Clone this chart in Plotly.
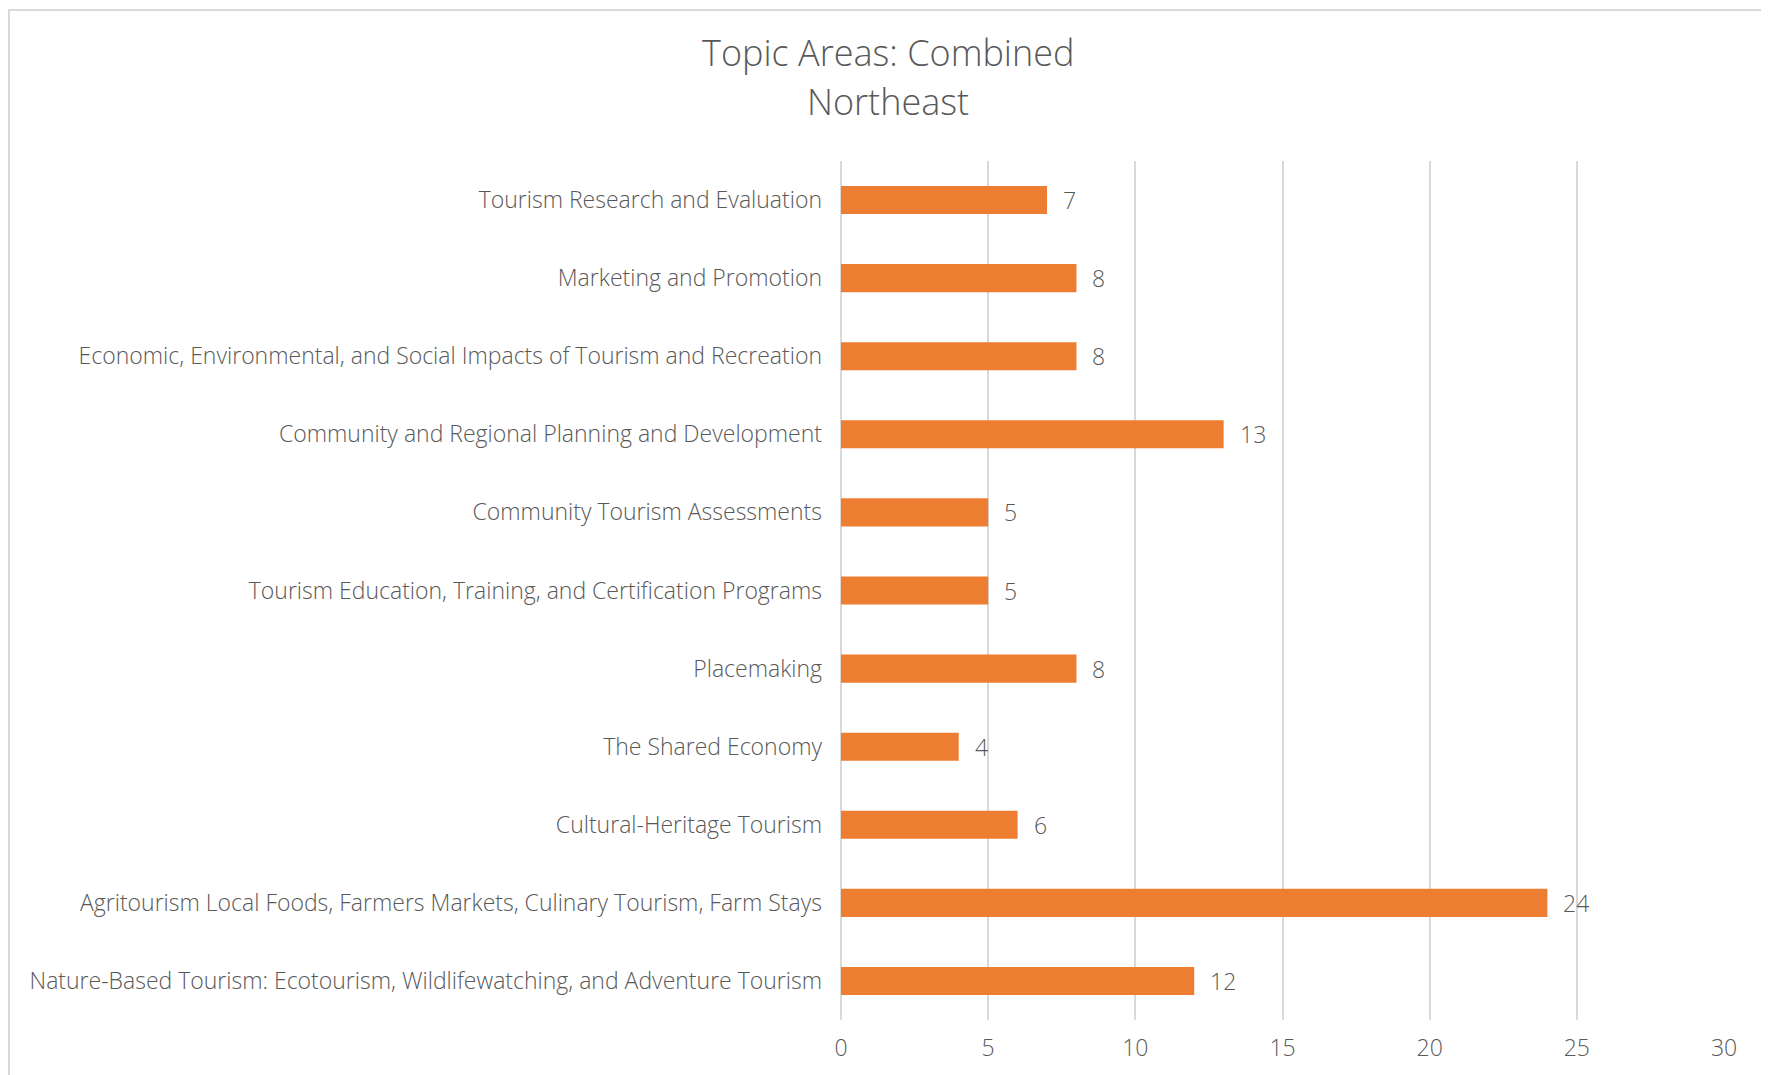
import plotly.graph_objects as go

categories = [
    "Tourism Research and Evaluation",
    "Marketing and Promotion",
    "Economic, Environmental, and Social Impacts of Tourism and Recreation",
    "Community and Regional Planning and Development",
    "Community Tourism Assessments",
    "Tourism Education, Training, and Certification Programs",
    "Placemaking",
    "The Shared Economy",
    "Cultural-Heritage Tourism",
    "Agritourism Local Foods, Farmers Markets, Culinary Tourism, Farm Stays",
    "Nature-Based Tourism: Ecotourism, Wildlifewatching, and Adventure Tourism",
]
values = [7, 8, 8, 13, 5, 5, 8, 4, 6, 24, 12]
x_ticks = [0, 5, 10, 15, 20, 25, 30]
title_lines = ["Topic Areas: Combined", "Northeast"]

TEXT = "#595959"
FONT = "Open Sans"

# figure geometry (page has an 8px body margin)
W, H = 1761, 1067
L, R, T, B = 833, 45, 153, 49
PW, PH = W - L - R, H - T - B

fig = go.Figure(go.Bar(
    x=values, y=categories, orientation="h",
    marker=dict(color="#ED7D31", line=dict(width=0)),
    width=0.36,
))

annotations = [
    dict(x=v, y=c, xref="x", yref="y", text=str(v), showarrow=False,
         xanchor="left", xshift=14, font=dict(family=FONT, size=23, color=TEXT, weight=300))
    for c, v in zip(categories, values)
]
for i, (line, ypx) in enumerate(zip(title_lines, [43.7, 93.5])):
    annotations.append(dict(
        x=(880 - L) / PW, y=(PH + T - ypx) / PH, xref="paper", yref="paper",
        text=line, showarrow=False, xanchor="center", yanchor="middle",
        font=dict(family=FONT, size=36, color=TEXT, weight=300)))

fig.update_layout(
    width=W, height=H,
    margin=dict(l=L, r=R, t=T, b=B),
    paper_bgcolor="white", plot_bgcolor="white",
    xaxis=dict(range=[0, 30], tickvals=x_ticks, showgrid=True, gridcolor="#D9D9D9",
               gridwidth=1.5, zeroline=True, zerolinecolor="#D9D9D9", zerolinewidth=1.5,
               showline=False, ticks="", ticklabelstandoff=12,
               tickfont=dict(family=FONT, size=23, color=TEXT, weight=300), fixedrange=True),
    yaxis=dict(autorange="reversed", showgrid=False, showline=False, ticks="",
               ticklabelstandoff=18,
               tickfont=dict(family=FONT, size=23, color=TEXT, weight=300)),
    annotations=annotations,
    shapes=[dict(type="rect", xref="paper", yref="paper",
                 x0=(1 - L) / PW, x1=(1755 - L) / PW,
                 y0=(PH + T - 1080) / PH, y1=(PH + T - 1) / PH,
                 line=dict(color="#D9D9D9", width=2), fillcolor="rgba(0,0,0,0)", layer="below")],
    showlegend=False,
)

fig.write_html("out.html")
